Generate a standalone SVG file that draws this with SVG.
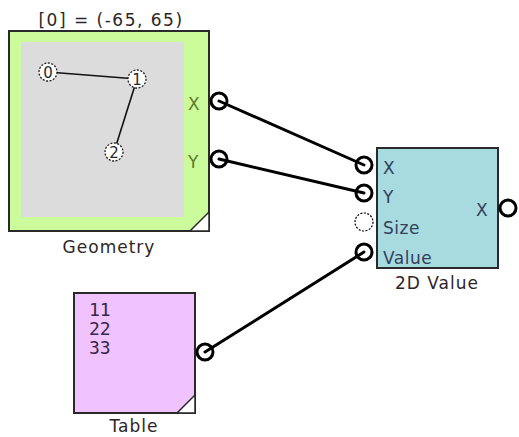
<svg xmlns="http://www.w3.org/2000/svg" width="519" height="437" viewBox="0 0 519 437">
<style>
.box{stroke:#2a2a2a;stroke-width:2}
.lbl{font-family:"DejaVu Sans",Verdana,sans-serif;font-size:17px;fill:#2e2626;letter-spacing:1px}
.plbl{font-family:"DejaVu Sans",Verdana,sans-serif;font-size:17px;letter-spacing:0.5px}
.port{fill:#fff;stroke:#000;stroke-width:3}
.wire{stroke:#000;stroke-width:3;fill:none;stroke-linecap:round}
.pt{fill:#fff;stroke:#222;stroke-width:1.3;stroke-dasharray:2 1.5}
.ptn{font-family:"DejaVu Sans",Verdana,sans-serif;font-size:15px;fill:#2a2a2a;text-anchor:middle}
.corner{fill:#fff;stroke:#2a2a2a;stroke-width:1.5}
.num{font-family:"DejaVu Sans Mono",monospace;font-size:18px;fill:#35264a}
</style>
<rect width="519" height="437" fill="#fff"/>
<g id="geometry">
<text class="lbl" x="111" y="26" text-anchor="middle" style="letter-spacing:1.5px">[0] = (-65, 65)</text>
<rect class="box" x="9" y="31" width="200" height="200" fill="#ccfb9c"/>
<rect x="21" y="42" width="163" height="175" fill="#dcdcdc"/>
<line x1="48" y1="72" x2="137" y2="79" stroke="#111" stroke-width="1.6"/>
<line x1="137" y1="79" x2="114" y2="152" stroke="#111" stroke-width="1.6"/>
<circle class="pt" cx="48" cy="72" r="9"/>
<text class="ptn" x="48" y="78">0</text>
<circle class="pt" cx="137" cy="79" r="9"/>
<text class="ptn" x="137" y="85">1</text>
<circle class="pt" cx="114" cy="152" r="9"/>
<text class="ptn" x="114" y="158">2</text>
<polygon class="corner" points="209,212 209,231 190,231"/>
<text class="plbl" x="188" y="110" fill="#5e7a2a">X</text>
<text class="plbl" x="188" y="168" fill="#5e7a2a">Y</text>
<text class="lbl" x="109" y="253" text-anchor="middle">Geometry</text>
</g>
<g id="value2d">
<rect class="box" x="377" y="148" width="121" height="120" fill="#a7dbe0"/>
<text class="plbl" x="383" y="174" fill="#34405a">X</text>
<text class="plbl" x="383" y="203" fill="#34405a">Y</text>
<text class="plbl" x="383" y="234" fill="#34405a">Size</text>
<text class="plbl" x="383" y="264" fill="#34405a">Value</text>
<text class="plbl" x="476" y="216" fill="#34405a">X</text>
<text class="lbl" x="437" y="289" text-anchor="middle">2D Value</text>
</g>
<g id="table">
<rect class="box" x="74" y="293" width="121" height="120" fill="#f1c3fe"/>
<text class="num" x="89" y="316">11</text>
<text class="num" x="89" y="335">22</text>
<text class="num" x="89" y="354">33</text>
<polygon class="corner" points="195,395 195,413 177,413"/>
<text class="lbl" x="134" y="432" text-anchor="middle">Table</text>
</g>
<g id="ports">
<circle class="port" cx="219" cy="101" r="8"/>
<circle class="port" cx="219" cy="159" r="8"/>
<circle class="port" cx="364" cy="165" r="8"/>
<circle class="port" cx="364" cy="193" r="8"/>
<circle cx="364" cy="222" r="9" fill="#fff" stroke="#000" stroke-width="1.2" stroke-dasharray="2 1.5"/>
<circle class="port" cx="364" cy="252" r="8"/>
<circle class="port" cx="508" cy="208" r="8"/>
<circle class="port" cx="205" cy="352" r="8"/>
</g>
<g id="connectors">
<line class="wire" x1="219" y1="101" x2="364" y2="165"/>
<line class="wire" x1="219" y1="159" x2="364" y2="193"/>
<line class="wire" x1="205" y1="352" x2="364" y2="252"/>
</g>
</svg>
